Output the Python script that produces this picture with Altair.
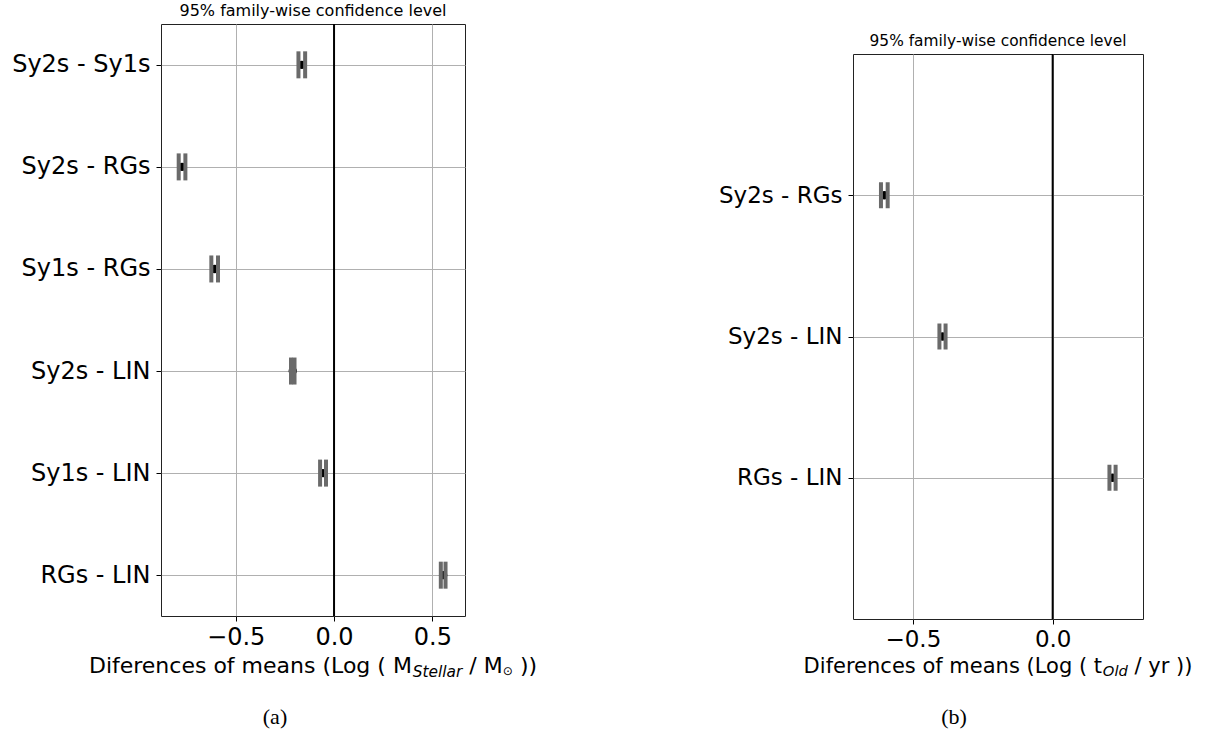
import altair as alt
import pandas as pd

# ---------------- data ----------------
comps_a = ["Sy2s - Sy1s", "Sy2s - RGs", "Sy1s - RGs", "Sy2s - LIN", "Sy1s - LIN", "RGs - LIN"]
means_a = [-0.164, -0.773, -0.607, -0.210, -0.056, 0.555]
halfw_a = [0.017, 0.017, 0.017, 0.009, 0.015, 0.012]

comps_b = ["Sy2s - RGs", "Sy2s - LIN", "RGs - LIN"]
means_b = [-0.602, -0.394, 0.214]
halfw_b = [0.012, 0.011, 0.011]

ticks_a = [-0.5, 0.0, 0.5]
ticks_b = [-0.5, 0.0]
domain_a = [-0.880, 0.666]
domain_b = [-0.714, 0.323]

plot_title = "95% family-wise confidence level"
xtitle_a = [("Diferences of means (Log ( M", 1.0, "normal", 0), ("Stellar", 0.7, "italic", 3.5),
            (" / M", 1.0, "normal", 0), ("\u2299", 0.55, "normal", 2), (" ))", 1.0, "normal", 0)]
xtitle_b = [("Diferences of means (Log ( t", 1.0, "normal", 0), ("Old", 0.7, "italic", 3.3),
            (" / yr ))", 1.0, "normal", 0)]
caption_a = "(a)"
caption_b = "(b)"

FONT = "DejaVu Sans"
GRAY = "#6a6a6a"
FRAME = "#222222"

# DejaVu Sans advance widths (em) used to lay out the composite axis titles
ADV = {" ": 0.318, "(": 0.390, ")": 0.390, "/": 0.337, "D": 0.770, "L": 0.557, "M": 0.863,
       "O": 0.787, "S": 0.635, "a": 0.613, "c": 0.550, "d": 0.635, "e": 0.615, "f": 0.352,
       "g": 0.635, "i": 0.278, "l": 0.278, "m": 0.974, "n": 0.634, "o": 0.612, "r": 0.411,
       "s": 0.521, "t": 0.392, "y": 0.592, "\u2299": 0.838}


def text_width(s, size):
    return sum(ADV.get(ch, 0.6) for ch in s) * size


def composite_title(pieces, base_size, cx, ybase):
    widths = [text_width(t, base_size * sc) for t, sc, _, _ in pieces]
    x0 = cx - sum(widths) / 2
    layers = []
    for (t, sc, style, dy), wdt in zip(pieces, widths):
        size = base_size * sc
        stripped = t.lstrip(" ")
        lead = text_width(t[: len(t) - len(stripped)], size)  # SVG drops leading spaces
        stripped = stripped.rstrip(" ")
        layers.append(
            alt.Chart(pd.DataFrame({"t": [stripped]}))
            .mark_text(align="left", baseline="alphabetic", font=FONT, fontSize=size,
                       fontStyle=style, color="black")
            .encode(x=alt.value(x0 + lead), y=alt.value(ybase + dy), text="t:N")
        )
        x0 += wdt
    return layers


def panel(comps, means, halfw, ticks, domain, w, h, pad, lab_fs, title_fs, xt_fs,
          pieces, xt_dy, caption, cap_x, cap_dy, cap_h):
    rows = []
    for c, m, hw in zip(comps, means, halfw):
        rows.append({"comp": c, "xv": m, "kind": "mean"})
        rows.append({"comp": c, "xv": m - hw, "kind": "cap"})
        rows.append({"comp": c, "xv": m + hw, "kind": "cap"})
    rows.append({"comp": comps[0], "xv": 0.0, "kind": "zero"})
    df = pd.DataFrame(rows)

    x_enc = alt.X("xv:Q", scale=alt.Scale(domain=domain, nice=False, zero=False),
                  axis=alt.Axis(values=ticks, format=".1f", title=None, grid=True,
                                gridColor="#b0b0b0", gridWidth=1, domain=False,
                                labelFontSize=lab_fs, labelFont=FONT, labelColor="black",
                                tickColor="black", tickSize=5, labelPadding=4))
    y_enc = alt.Y("comp:N", sort=comps, scale=alt.Scale(type="point", padding=pad),
                  axis=alt.Axis(title=None, grid=True, gridColor="#b0b0b0", gridWidth=1,
                                domain=False, labelFontSize=lab_fs, labelFont=FONT,
                                labelColor="black", tickColor="black", tickSize=5,
                                labelPadding=6))
    base = alt.Chart(df)
    zero = base.transform_filter(alt.datum.kind == "zero").mark_rule(
        color="black", strokeWidth=2).encode(x=x_enc)
    mean = base.transform_filter(alt.datum.kind == "mean").mark_point(
        filled=True, color="black", size=70, opacity=1).encode(x=x_enc, y=y_enc)
    caps = base.transform_filter(alt.datum.kind == "cap").mark_tick(
        color=GRAY, thickness=4, size=cap_h, opacity=1).encode(x=x_enc, y=y_enc)

    cap = (alt.Chart(pd.DataFrame({"t": [caption]}))
           .mark_text(align="center", baseline="middle", font="Liberation Serif",
                      fontSize=22, color="black")
           .encode(x=alt.value(cap_x), y=alt.value(h + cap_dy), text="t:N"))

    layers = [zero, mean, caps] + composite_title(pieces, xt_fs, w / 2, h + xt_dy) + [cap]
    return alt.layer(*layers).properties(
        width=w, height=h,
        view=alt.ViewBackground(stroke=FRAME, strokeWidth=1),
        title=alt.TitleParams(plot_title, font=FONT, fontSize=title_fs, fontWeight="normal",
                              color="black", offset=4),
    )


panel_a = panel(comps_a, means_a, halfw_a, ticks_a, domain_a, 304, 592, 0.4, 24, 16, 22,
                xtitle_a, 57, caption_a, 114, 101, 27)
panel_b = panel(comps_b, means_b, halfw_b, ticks_b, domain_b, 290, 565, 1.0, 23, 15.4, 21,
                xtitle_b, 54, caption_b, 101, 98, 26)

spacer = (alt.Chart(pd.DataFrame({"t": [""]}))
          .mark_text()
          .encode(x=alt.value(0), y=alt.value(0), text="t:N")
          .properties(width=290, height=1, view=alt.ViewBackground(stroke="transparent")))

chart = (
    alt.hconcat(panel_a, alt.vconcat(spacer, panel_b, spacing=3), spacing=179)
    .properties(padding={"left": 11, "top": 2, "right": 0, "bottom": 0})
    .configure(font=FONT)
)

chart.save("out.html", embed_options={"renderer": "svg", "actions": False})
